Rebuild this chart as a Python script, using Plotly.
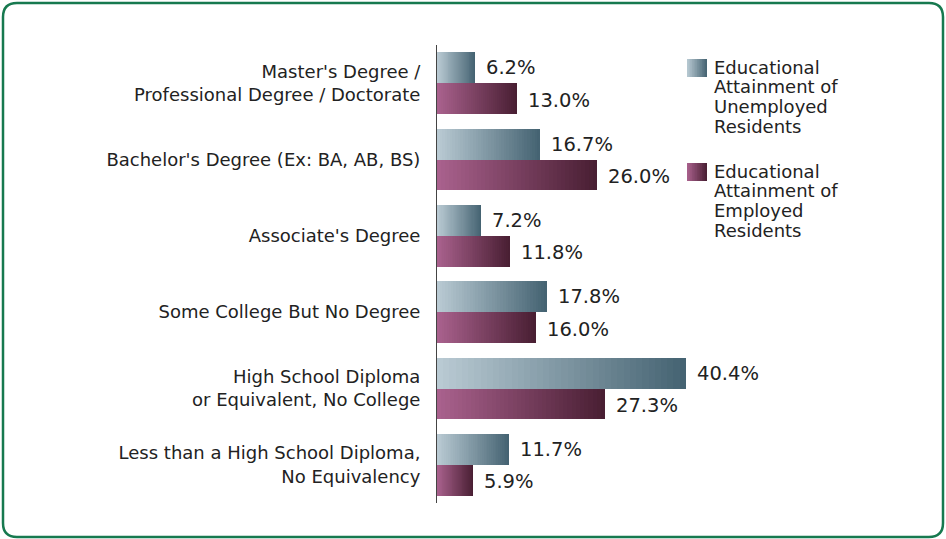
import plotly.graph_objects as go

categories = [
    "Master's Degree /<br>Professional Degree / Doctorate",
    "Bachelor's Degree (Ex: BA, AB, BS)",
    "Associate's Degree",
    "Some College But No Degree",
    "High School Diploma<br>or Equivalent, No College",
    "Less than a High School Diploma,<br>No Equivalency",
]
unemployed = [6.2, 16.7, 7.2, 17.8, 40.4, 11.7]
employed = [13.0, 26.0, 11.8, 16.0, 27.3, 5.9]
value_labels_unemp = ["6.2%", "16.7%", "7.2%", "17.8%", "40.4%", "11.7%"]
value_labels_emp = ["13.0%", "26.0%", "11.8%", "16.0%", "27.3%", "5.9%"]
legend_unemp = ["Educational", "Attainment of", "Unemployed", "Residents"]
legend_emp = ["Educational", "Attainment of", "Employed", "Residents"]

FONT = "DejaVu Sans, sans-serif"
FS = 18
FSV = 19.5
TXT = "#222222"
BLUE = ((186, 203, 212), (68, 98, 113))
PINK = ((170, 98, 142), (72, 30, 50))

W, H = 946, 539
L, T, B = 437, 45, 36
XMAX = 50
PW = 308
R = W - L - PW
PH = H - T - B
BW = 0.405
N = 40

def mix(c, t):
    a, b = c
    return "rgb(%d,%d,%d)" % tuple(round(a[i] + (b[i] - a[i]) * t) for i in range(3))

pos = list(range(len(categories)))
fig = go.Figure()

# gradient bars: layered bars, longest (darkest) first, shorter lighter ones on top
for vals, grad, off in [(unemployed, BLUE, -BW), (employed, PINK, 0.0)]:
    for k in range(N):
        frac = (N - k) / N
        col = mix(grad, (N - k - 0.5) / N)
        fig.add_trace(go.Bar(
            orientation="h", y=pos,
            x=[v * frac for v in vals],
            width=BW, offset=off,
            marker=dict(color=col, line=dict(width=0)),
            hoverinfo="skip", showlegend=False,
        ))

ann = []
for i in pos:
    ann.append(dict(x=unemployed[i], y=i - BW / 2, text=value_labels_unemp[i], xref="x", yref="y",
                    xanchor="left", yanchor="middle", xshift=9, showarrow=False,
                    font=dict(family=FONT, size=FSV, color=TXT)))
    ann.append(dict(x=employed[i], y=i + BW / 2 + 0.02, text=value_labels_emp[i], xref="x", yref="y",
                    xanchor="left", yanchor="middle", xshift=9, showarrow=False,
                    font=dict(family=FONT, size=FSV, color=TXT)))

def px(xp):
    return (xp - L) / PW

def py(yp):
    return (H - B - yp) / PH

shapes = []
# legend swatches (gradient squares)
for grad, top, lines in [(BLUE, 59, legend_unemp), (PINK, 163, legend_emp)]:
    x0, x1, y0, y1 = 687, 707, top, top + 18
    S = 12
    for s in range(S):
        col = mix(grad, (s + 0.5) / S)
        shapes.append(dict(type="rect", xref="paper", yref="paper",
                           x0=px(x0 + (x1 - x0) * s / S), x1=px(x1),
                           y0=py(y1), y1=py(y0), fillcolor=col, line=dict(width=0), layer="above"))
    for j, t in enumerate(lines):
        ann.append(dict(x=px(712), y=py(top + 8 + j * 19.7), xref="paper", yref="paper", text=t,
                        xanchor="left", yanchor="middle", showarrow=False,
                        font=dict(family=FONT, size=FS, color=TXT)))

# rounded border
bx0, bx1, by0, by1, rr = 3, 943, 3, 537, 14
path = (f"M {px(bx0+rr)},{py(by0)} L {px(bx1-rr)},{py(by0)} Q {px(bx1)},{py(by0)} {px(bx1)},{py(by0+rr)} "
        f"L {px(bx1)},{py(by1-rr)} Q {px(bx1)},{py(by1)} {px(bx1-rr)},{py(by1)} "
        f"L {px(bx0+rr)},{py(by1)} Q {px(bx0)},{py(by1)} {px(bx0)},{py(by1-rr)} "
        f"L {px(bx0)},{py(by0+rr)} Q {px(bx0)},{py(by0)} {px(bx0+rr)},{py(by0)} Z")
shapes.append(dict(type="path", xref="paper", yref="paper", path=path,
                   line=dict(color="#17794f", width=2.5)))

fig.update_layout(
    width=W, height=H,
    margin=dict(l=L, r=R, t=T, b=B),
    paper_bgcolor="white", plot_bgcolor="white",
    barmode="overlay", bargap=0,
    showlegend=False,
    font=dict(family=FONT, size=FS, color=TXT),
    xaxis=dict(range=[0, XMAX], visible=False, showgrid=False, zeroline=False, fixedrange=True),
    yaxis=dict(range=[5.5, -0.5], tickvals=pos, ticktext=categories, showgrid=False, zeroline=False,
               showline=True, linecolor="#444444", linewidth=1, ticks="", ticklabelstandoff=12,
               tickfont=dict(family=FONT, size=FS, color=TXT), fixedrange=True),
    annotations=ann, shapes=shapes,
)

fig.write_html("out.html", config={"displayModeBar": False},
               post_script="document.body.style.margin='0';document.body.style.overflow='hidden';")
